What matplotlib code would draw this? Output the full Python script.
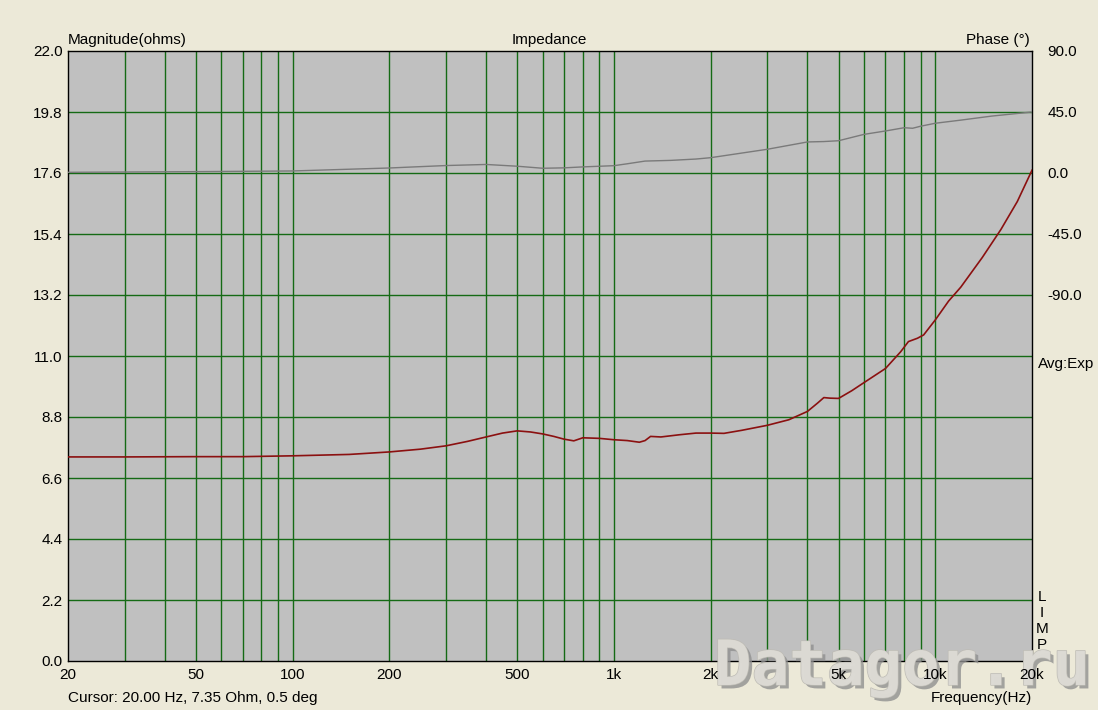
import matplotlib
matplotlib.use("Agg")
import matplotlib.pyplot as plt
import matplotlib.patheffects as pe
from matplotlib.ticker import FixedLocator, NullLocator

# ---- data ----
imp_freq = [20, 30, 50, 70, 100, 150, 200, 250, 300, 350, 400, 450, 500, 550, 600,
            650, 700, 750, 800, 900, 1000, 1100, 1200, 1250, 1300, 1400, 1600, 1800,
            2000, 2200, 2500, 3000, 3500, 4000, 4300, 4500, 4700, 5000, 5500, 6000,
            7000, 7800, 8250, 8800, 9200, 10000, 11000, 12000, 14000, 16000, 18000, 20000]
imp_ohm = [7.36, 7.36, 7.37, 7.37, 7.40, 7.45, 7.54, 7.64, 7.76, 7.92, 8.08, 8.22, 8.30, 8.26, 8.19,
           8.10, 8.00, 7.94, 8.05, 8.03, 7.98, 7.95, 7.89, 7.95, 8.10, 8.08, 8.16, 8.22,
           8.22, 8.21, 8.32, 8.50, 8.70, 9.00, 9.30, 9.50, 9.48, 9.47, 9.75, 10.04,
           10.55, 11.15, 11.52, 11.64, 11.76, 12.30, 12.98, 13.48, 14.55, 15.56, 16.57, 17.70]

phase_freq = [20, 50, 100, 200, 300, 400, 500, 600, 700, 800, 1000, 1100, 1250, 1500,
              1800, 2000, 3000, 4000, 4500, 5000, 6000, 7000, 8000, 8500, 9000, 10000,
              12000, 15000, 20000]
phase_deg = [0.5, 1.0, 1.5, 3.7, 5.5, 6.3, 5.0, 3.5, 3.8, 4.5, 5.4, 6.8, 8.8, 9.3,
             10.3, 11.3, 17.5, 22.9, 23.2, 23.8, 28.5, 31.0, 33.4, 33.0, 34.5, 36.7,
             39.0, 42.0, 45.0]

mag_ticks = [0.0, 2.2, 4.4, 6.6, 8.8, 11.0, 13.2, 15.4, 17.6, 19.8, 22.0]
phase_ticks = [-90.0, -45.0, 0.0, 45.0, 90.0]
freq_grid = [30, 40, 50, 60, 70, 80, 90, 100, 200, 300, 400, 500, 600, 700, 800, 900,
             1000, 2000, 3000, 4000, 5000, 6000, 7000, 8000, 9000, 10000]
freq_ticks = [20, 50, 100, 200, 500, 1000, 2000, 5000, 10000, 20000]
freq_labels = ["20", "50", "100", "200", "500", "1k", "2k", "5k", "10k", "20k"]

# ---- style ----
plt.rcParams['font.family'] = ['Liberation Sans', 'DejaVu Sans']
FS = 11
BG = '#ECE9D8'
GRID = '#156A15'

W, H = 1098, 710
fig = plt.figure(figsize=(W / 100, H / 100), dpi=100, facecolor=BG)
L, R, T, B = 68, 1032, 51, 661
ax = fig.add_axes([L / W, 1 - B / H, (R - L) / W, (B - T) / H])
ax.set_zorder(1)
ax.set_facecolor('#C0C0C0')
ax.set_xscale('log')
ax.set_xlim(20, 20000)
ax.set_ylim(0, 22)

for f in freq_grid:
    ax.axvline(f, color=GRID, lw=1.0, zorder=1)
for m in mag_ticks[1:-1]:
    ax.axhline(m, color=GRID, lw=1.0, zorder=1)

ax.set_yticks(mag_ticks)
ax.set_yticklabels([f"{v:.1f}" for v in mag_ticks])
ax.tick_params(axis='both', length=0, labelsize=FS, colors='black')
ax.tick_params(axis='y', pad=4)
ax.tick_params(axis='x', labelbottom=False)
for s in ax.spines.values():
    s.set_color('black')
    s.set_linewidth(1.0)

ax2 = ax.twinx()
ax2.set_zorder(3)
ax2.set_ylim(-360, 90)
ax2.set_yticks(phase_ticks)
ax2.set_yticklabels([f"{v:.1f}" for v in phase_ticks])
ax2.tick_params(axis='y', length=0, labelsize=FS, pad=11)
ax2.xaxis.set_visible(True)
ax2.xaxis.set_major_locator(FixedLocator(freq_ticks))
ax2.xaxis.set_minor_locator(NullLocator())
ax2.set_xticklabels(freq_labels)
ax2.tick_params(axis='x', length=0, labelsize=FS, pad=5, labelbottom=True, labeltop=False)
for s in ax2.spines.values():
    s.set_visible(False)

ax2.plot(phase_freq, phase_deg, color='#7A7A7A', lw=1.0, zorder=3)
ax.plot(imp_freq, imp_ohm, color='#8B1010', lw=1.2, zorder=4)

# ---- texts ----
def px(x, y):
    return x / W, 1 - y / H

fig.text(*px(68, 40), "Magnitude(ohms)", fontsize=FS, ha='left', va='center')
fig.text(*px(549, 40), "Impedance", fontsize=FS, ha='center', va='center')
fig.text(*px(1030, 40), "Phase (°)", fontsize=FS, ha='right', va='center')
fig.text(*px(1038, 364), "Avg:Exp", fontsize=FS, ha='left', va='center')
for i, ch in enumerate("LIMP"):
    fig.text(*px(1042, 597 + i * 16), ch, fontsize=FS, ha='center', va='center')
fig.text(*px(68, 698), "Cursor: 20.00 Hz, 7.35 Ohm, 0.5 deg", fontsize=FS, ha='left', va='center')

# watermark (between the plot and the axis labels)
wm = fig.text(*px(902, 668), "Datagor.ru", fontsize=45, fontweight='bold',
              family='DejaVu Sans Mono', ha='center', va='center',
              color='#DCDAD4', zorder=2, alpha=0.95)
wm.set_path_effects([pe.withSimplePatchShadow(offset=(2.5, -2.5), shadow_rgbFace='#909090', alpha=0.8),
                     pe.Stroke(linewidth=1.0, foreground='#BDBBB4'),
                     pe.Normal()])

fig.text(*px(1032, 698), "Frequency(Hz)", fontsize=FS, ha='right', va='center', zorder=11)

fig.savefig('out.png', dpi=100, facecolor=BG)
